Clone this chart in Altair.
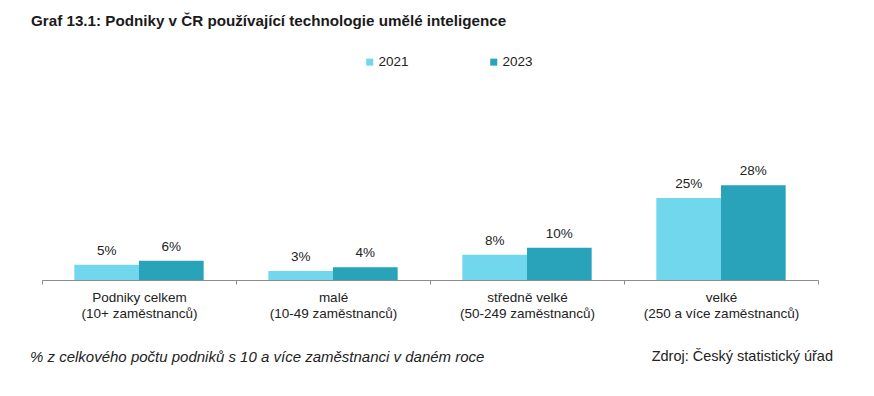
import altair as alt
import pandas as pd

categories = [
    "Podniky celkem|(10+ zaměstnanců)",
    "malé|(10-49 zaměstnanců)",
    "středně velké|(50-249 zaměstnanců)",
    "velké|(250 a více zaměstnanců)",
]
years = ["2021", "2023"]
values_2021 = [4.6, 2.7, 7.6, 24.6]
values_2023 = [5.8, 3.8, 9.7, 28.4]
colors = ["#70D7EC", "#29A3B9"]

title_text = "Graf 13.1: Podniky v ČR používající technologie umělé inteligence"
note_text = "% z celkového počtu podniků s 10 a více zaměstnanci v daném roce"
source_text = "Zdroj: Český statistický úřad"

FONT = "Liberation Sans"

rows = []
for c, v1, v2 in zip(categories, values_2021, values_2023):
    rows.append({"kategorie": c, "rok": years[0], "hodnota": v1})
    rows.append({"kategorie": c, "rok": years[1], "hodnota": v2})
df = pd.DataFrame(rows)

x_enc = alt.X(
    "kategorie:N",
    sort=categories,
    scale=alt.Scale(paddingInner=0, paddingOuter=0),
    axis=alt.Axis(
        title=None,
        labelAngle=0,
        labelExpr="isValid(datum.value) ? split(datum.value, '|') : ''",
        labelLineHeight=16,
        labelFontSize=13.5,
        labelFont=FONT,
        labelColor="#222222",
        labelPadding=6,
        tickBand="extent",
        tickSize=4,
        tickColor="#8c8c8c",
        domainColor="#8c8c8c",
        domainWidth=1,
        grid=False,
    ),
)
xo_enc = alt.XOffset("rok:N", sort=years, scale=alt.Scale(paddingOuter=0.5, paddingInner=0))
y_enc = alt.Y("hodnota:Q", scale=alt.Scale(domain=[0, 54]), axis=None)

base = alt.Chart(df).encode(x=x_enc, xOffset=xo_enc, y=y_enc)

bars = base.mark_bar().encode(
    color=alt.Color(
        "rok:N",
        sort=years,
        scale=alt.Scale(domain=years, range=colors),
        legend=alt.Legend(
            title=None,
            orient="none",
            direction="horizontal",
            legendX=321,
            legendY=-45,
            symbolType="square",
            symbolSize=49,
            symbolStrokeWidth=0,
            columnPadding=78,
            labelFontSize=13.5,
            labelFont=FONT,
            labelColor="#222222",
            labelOffset=2,
        ),
    )
)

labels = base.transform_calculate(
    lbl="format(round(datum.hodnota), 'd') + '%'"
).mark_text(dy=-10, baseline="alphabetic", fontSize=13.5, font=FONT, color="#222222").encode(
    text="lbl:N"
)

note = alt.Chart(pd.DataFrame({"t": [note_text]})).mark_text(
    align="left", baseline="middle", fontStyle="italic", fontSize=15, font=FONT, color="#222222"
).encode(x=alt.value(-12), y=alt.value(257), text="t:N")

source = alt.Chart(pd.DataFrame({"t": [source_text]})).mark_text(
    align="right", baseline="middle", fontSize=14.5, font=FONT, color="#222222"
).encode(x=alt.value(791), y=alt.value(257), text="t:N")

chart = alt.layer(bars, labels, note, source).properties(
    width=776,
    height=180,
    autosize=alt.AutoSizeParams(type="none"),
    padding={"left": 34, "top": 92, "right": 40, "bottom": 100},
    title=alt.Title(
        title_text,
        anchor="start",
        frame="group",
        fontSize=15.2,
        fontWeight="bold",
        font=FONT,
        color="#1a1a1a",
        dx=-11,
        offset=26,
    ),
).configure_view(stroke=None)

chart.save("out.html", embed_options={"renderer": "svg", "actions": False})
